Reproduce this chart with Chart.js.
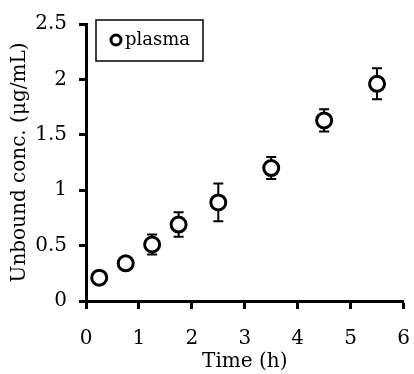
<!DOCTYPE html>
<html lang="en">
<head>
<meta charset="UTF-8">
<title>Unbound conc. vs Time</title>
<script src="https://cdn.jsdelivr.net/npm/chart.js@4.4.0/dist/chart.umd.min.js"></script>
<style>
    body { margin: 0; background: #fff; }
    .chart-container { position: relative; width: 414px; height: 374px; }
</style>
</head>
<body>
<div class="chart-container"><canvas id="concChart"></canvas></div>
<script>
// data
const timeH = [0.25, 0.75, 1.25, 1.75, 2.5, 3.5, 4.5, 5.5];
const plasmaConc = [0.21, 0.34, 0.51, 0.69, 0.89, 1.20, 1.63, 1.96];
const plasmaSd = [0.03, 0.04, 0.09, 0.11, 0.17, 0.10, 0.10, 0.14];
const xTicks = [0, 1, 2, 3, 4, 5, 6];
const yTicks = [0, 0.5, 1, 1.5, 2, 2.5];

const family = "'DejaVu Serif', serif";

// error bars, drawn under the markers so the white fill hides the middle
const errorBars = {
    id: 'errorBars',
    beforeDatasetsDraw(chart) {
        const ctx = chart.ctx;
        const xs = chart.scales.x, ys = chart.scales.y;
        ctx.save();
        ctx.strokeStyle = '#000';
        ctx.lineWidth = 2;
        timeH.forEach((t, i) => {
            const px = xs.getPixelForValue(t);
            const top = ys.getPixelForValue(plasmaConc[i] + plasmaSd[i]);
            const bot = ys.getPixelForValue(plasmaConc[i] - plasmaSd[i]);
            ctx.beginPath();
            ctx.moveTo(px, top); ctx.lineTo(px, bot);
            ctx.moveTo(px - 5, top); ctx.lineTo(px + 5, top);
            ctx.moveTo(px - 5, bot); ctx.lineTo(px + 5, bot);
            ctx.stroke();
        });
        ctx.restore();
    }
};

// x tick labels placed at the scale's tick pixels, lower than the library puts them
const xTickLabels = {
    id: 'xTickLabels',
    afterDraw(chart) {
        const ctx = chart.ctx;
        const xs = chart.scales.x;
        const y = chart.chartArea.bottom + 38;
        ctx.save();
        ctx.fillStyle = '#000';
        ctx.font = "20px " + family;
        ctx.textAlign = 'center';
        ctx.textBaseline = 'middle';
        xTicks.forEach(v => ctx.fillText(String(v), xs.getPixelForValue(v), y));
        ctx.restore();
    }
};

// boxed legend inside the plot
const legendBox = {
    id: 'legendBox',
    afterDraw(chart) {
        const ctx = chart.ctx;
        ctx.save();
        ctx.strokeStyle = '#000';
        ctx.lineWidth = 1.5;
        ctx.strokeRect(96, 20, 107, 41);
        ctx.beginPath();
        ctx.arc(116, 40, 5, 0, Math.PI * 2);
        ctx.fillStyle = '#fff';
        ctx.fill();
        ctx.lineWidth = 3;
        ctx.stroke();
        ctx.fillStyle = '#000';
        ctx.font = "18px " + family;
        ctx.textBaseline = 'middle';
        ctx.fillText(chart.data.datasets[0].label, 125, 40);
        ctx.restore();
    }
};

new Chart(document.getElementById('concChart'), {
    type: 'scatter',
    data: {
        datasets: [{
            label: 'plasma',
            data: timeH.map((t, i) => ({ x: t, y: plasmaConc[i] })),
            pointRadius: 7.5,
            pointHoverRadius: 7.5,
            pointBorderWidth: 3,
            pointBorderColor: '#000',
            pointBackgroundColor: '#fff'
        }]
    },
    options: {
        responsive: true,
        maintainAspectRatio: false,
        animation: false,
        layout: { padding: { top: 19, right: 6, left: 0, bottom: 0 } },
        plugins: { legend: { display: false }, tooltip: { enabled: false } },
        scales: {
            x: {
                type: 'linear',
                min: 0, max: 6,
                afterBuildTicks: s => { s.ticks = xTicks.map(v => ({ value: v })); },
                afterFit: s => { s.height = 73; },
                ticks: { display: false },
                grid: { drawOnChartArea: false, drawTicks: true, tickLength: 8, tickWidth: 3, tickColor: '#000' },
                border: { color: '#000', width: 3 },
                title: { display: true, text: 'Time (h)', color: '#000', font: { family, size: 20 }, padding: { top: 0, bottom: 0 } }
            },
            y: {
                type: 'linear',
                min: 0, max: 2.5,
                afterBuildTicks: s => { s.ticks = yTicks.map(v => ({ value: v })); },
                afterFit: s => { s.width = 86; },
                ticks: { color: '#000', font: { family, size: 20 }, padding: 12, callback: v => String(v) },
                grid: { drawOnChartArea: false, drawTicks: true, tickLength: 7, tickWidth: 3, tickColor: '#000' },
                border: { color: '#000', width: 3 },
                title: { display: true, text: 'Unbound conc. (μg/mL)', color: '#000', font: { family, size: 20 }, padding: { top: 8, bottom: 0 } }
            }
        }
    },
    plugins: [errorBars, xTickLabels, legendBox]
});
</script>
</body>
</html>
